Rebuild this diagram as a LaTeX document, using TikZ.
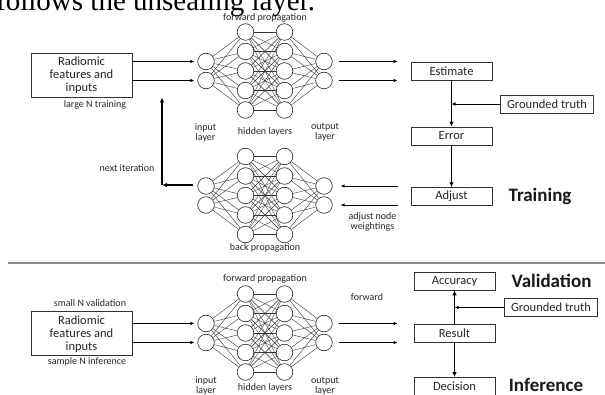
\documentclass[tikz,border=0pt]{standalone}
\usepackage{fontspec}
\setmainfont{Carlito}
\newfontfamily\bodyserif{Liberation Serif}
\usepackage{tikz}
\usetikzlibrary{shapes.geometric, arrows.meta}
\usetikzlibrary{positioning}
\tikzstyle{process} = [rectangle, minimum width=81pt, minimum height=18pt, inner sep=0pt, text centered, draw=black!80, line width=0.8pt, text=black!85, font=\fontsize{12.5}{13}\selectfont]
\tikzstyle{inbox} = [process, minimum width=101pt, minimum height=44pt, align=center]
\tikzstyle{truth} = [process, minimum width=93pt]
\tikzstyle{neuron} = [circle, minimum size=16.6pt, inner sep=0pt, draw=black!85, line width=0.6pt]
\tikzstyle{link} = [black!80, line width=0.4pt]
\tikzstyle{note} = [text=black!85, font=\fontsize{10}{10}\selectfont, align=center, inner sep=0pt]
\tikzstyle{phase} = [text=black!90, font=\fontsize{19}{19}\selectfont\bfseries, inner sep=0pt]
\tikzstyle{arrow} = [line width=0.8pt, -{Latex[length=4pt,width=3.5pt]}]
\tikzstyle{thickarrow} = [line width=1.9pt, -{Latex[length=5pt,width=4.5pt]}]

\begin{document}
\begin{tikzpicture}[x=1pt, y=-1pt]
    \useasboundingbox (0,0) rectangle (605,395);

    % text of the page above the figure
    \begin{scope}
    \clip (0,0) rectangle (605,395);
    \node (caption) [anchor=base west, inner sep=0pt, font=\bodyserif\fontsize{29}{29}\selectfont] at (-4,11) {follows the unsealing layer.};
    \end{scope}

    % the three networks: forward, back, inference
    \foreach \net/\cy in {f/71, b/195.5, v/333} {
        \foreach \i in {1,2} {
            \node (\net-i\i) [neuron] at (206, {\cy+(\i-1.5)*19}) {};
            \node (\net-o\i) [neuron] at (324, {\cy+(\i-1.5)*19}) {};
        }
        \foreach \j in {1,...,5} {
            \node (\net-a\j) [neuron] at (245.5, {\cy+(\j-3)*19.5}) {};
            \node (\net-b\j) [neuron] at (284.5, {\cy+(\j-3)*19.5}) {};
        }
        \foreach \i in {1,2} {
            \foreach \j in {1,...,5} {
                \draw [link] (\net-i\i) -- (\net-a\j);
                \draw [link] (\net-b\j) -- (\net-o\i);
            }
        }
        \foreach \j in {1,...,5} {
            \foreach \k in {1,...,5} {
                \draw [link] (\net-a\j) -- (\net-b\k);
            }
        }
    }

    % training half
    \node (rad1) [inbox] at (81.5,75) {Radiomic\\features and\\inputs};
    \node (est) [process] at (451.5,71) {Estimate};
    \node (err) [process, below of=est, node distance=65pt] {Error};
    \node (adj) [process, below of=err, node distance=60.7pt] {Adjust};
    \node (gt1) [truth] at (547,104) {Grounded truth};
    \node (train) [phase, right of=adj, node distance=88.5pt] {Training};

    \node (fwd1) [note] at (265,18) {forward propagation};
    \node (inl1) [note] at (205.5,132.5) {input\\layer};
    \node (hid1) [note] at (265,131.5) {hidden layers};
    \node (outl1) [note] at (325,132) {output\\layer};
    \node (bwd) [note] at (265,248) {back propagation};
    \node (large) [note] at (95,105) {large N training};
    \node (iterlbl) [note] at (127,168) {next iteration};
    \node (adjlbl) [note] at (372.5,221.5) {adjust node\\weightings};

    \draw [arrow, shorten >=3pt] (rad1.east |- f-i1) -- (f-i1);
    \draw [arrow, shorten >=3pt] (rad1.east |- f-i2) -- (f-i2);
    \draw [arrow, shorten <=6pt, shorten >=13pt] (f-o1) -- (f-o1 -| est.west);
    \draw [arrow, shorten <=6pt, shorten >=13pt] (f-o2) -- (f-o2 -| est.west);
    \draw [thickarrow] (est) -- (err);
    \draw [thickarrow] (err) -- (adj);
    \draw [arrow] (gt1) -- (gt1 -| est);
    \draw [arrow, shorten <=13pt, shorten >=8pt] (b-o1 -| adj.west) -- (b-o1);
    \draw [arrow, shorten <=13pt, shorten >=8pt] (b-o2 -| adj.west) -- (b-o2);
    \coordinate (iter) at (162,185);
    \draw [thickarrow, shorten <=4pt] (b-i1.west |- iter) -- (iter);
    \draw [thickarrow] (iter) -- (iter |- rad1.south);

    % divider
    \draw [black!45, line width=2pt] (8,263) -- (605,263);

    % validation and inference half
    \node (rad2) [inbox] at (81.5,333.7) {Radiomic\\features and\\inputs};
    \node (acc) [process] at (454.5,281) {Accuracy};
    \node (res) [process, below of=acc, node distance=52.5pt] {Result};
    \node (dec) [process, below of=res, node distance=53pt] {Decision};
    \node (gt2) [truth] at (551,307.5) {Grounded truth};
    \node (valid) [phase, right of=acc, node distance=97pt] {Validation};
    \node (infer) [phase, right of=dec, node distance=91.5pt, yshift=1.5pt] {Inference};

    \node (fwd2) [note] at (265,279) {forward propagation};
    \node (inl2) [note] at (206,385.5) {input\\layer};
    \node (hid2) [note] at (265,388) {hidden layers};
    \node (outl2) [note] at (325,386) {output\\layer};
    \node (fwdlbl) [note] at (367,297) {forward};
    \node (small) [note] at (90,303) {small N validation};
    \node (sample) [note] at (87,362) {sample N inference};

    \draw [arrow, shorten >=3pt] (rad2.east |- v-i1) -- (v-i1);
    \draw [arrow, shorten >=3pt] (rad2.east |- v-i2) -- (v-i2);
    \draw [arrow, shorten <=6pt, shorten >=16pt] (v-o1) -- (v-o1 -| res.west);
    \draw [arrow, shorten <=6pt, shorten >=16pt] (v-o2) -- (v-o2 -| res.west);
    \draw [thickarrow] (res) -- (acc);
    \draw [thickarrow] (res) -- (dec);
    \draw [arrow] (gt2) -- (gt2 -| res);
\end{tikzpicture}
\end{document}
